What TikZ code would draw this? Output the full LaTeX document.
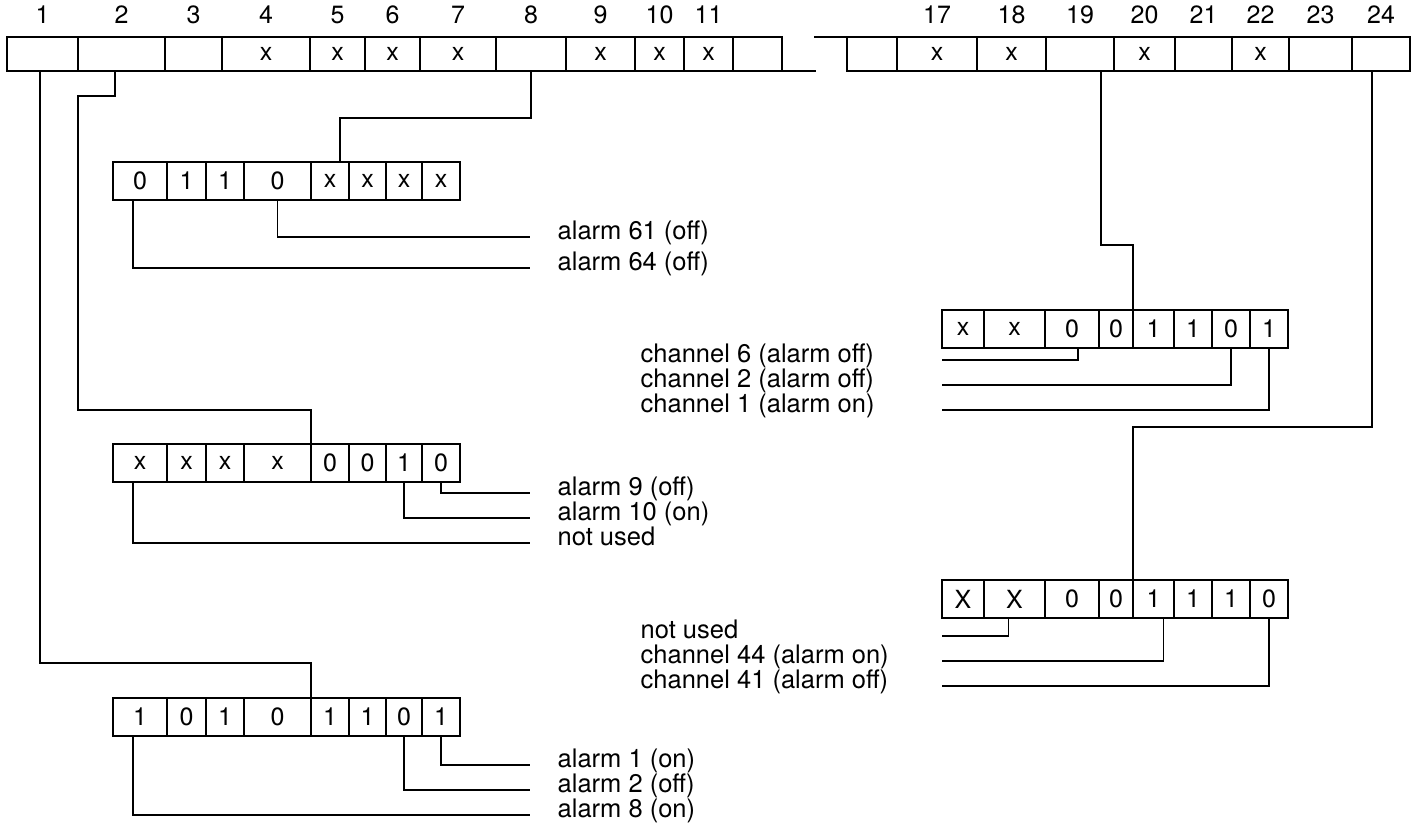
\documentclass[tikz,border=0pt]{standalone}
\usepackage{fontspec}
\setmainfont{TeX Gyre Heros}
\usetikzlibrary{positioning}

\begin{document}
\begin{tikzpicture}[
  x=1pt, y=-1pt,
  every node/.style={font=\fontsize{25}{26}\selectfont},
  line width=1.4pt,
  cell/.style={draw, minimum height=34pt, inner sep=0pt, outer sep=0pt},
  bit/.style={draw, minimum height=38pt, inner sep=0pt, outer sep=0pt},
  lbl/.style={anchor=mid west, inner xsep=27pt, inner ysep=0pt, font=\fontsize{25.5}{26}\selectfont},
  rlbl/.style={anchor=mid west, inner sep=0pt, font=\fontsize{25.5}{26}\selectfont}
  ]
  \useasboundingbox (0,0) rectangle (1418,831);

  % Register, left part
  \node (r1) [cell, minimum width=71pt] at (42.5,54) {};
  \node (r2) [cell, minimum width=87pt] at (121.5,54) {};
  \node (r3) [cell, minimum width=57pt] at (193.5,54) {};
  \node (r4) [cell, minimum width=88pt] at (266,54) {x};
  \node (r5) [cell, minimum width=55pt] at (337.5,54) {x};
  \node (r6) [cell, minimum width=55pt] at (392.5,54) {x};
  \node (r7) [cell, minimum width=76pt] at (458,54) {x};
  \node (r8) [cell, minimum width=70pt] at (531,54) {};
  \node (r9) [cell, minimum width=69pt] at (600.5,54) {x};
  \node (r10) [cell, minimum width=49pt] at (659.5,54) {x};
  \node (r11) [cell, minimum width=49pt] at (708.5,54) {x};
  \node (r12) [cell, minimum width=49pt] at (757.5,54) {};
  \node (n1) at (r1 |- 0,15) {1};
  \node (n2) at (r2 |- 0,15) {2};
  \node (n3) at (r3 |- 0,15) {3};
  \node (n4) at (r4 |- 0,15) {4};
  \node (n5) at (r5 |- 0,15) {5};
  \node (n6) at (r6 |- 0,15) {6};
  \node (n7) at (r7 |- 0,15) {7};
  \node (n8) at (r8 |- 0,15) {8};
  \node (n9) at (r9 |- 0,15) {9};
  \node (n10) at (r10 |- 0,15) {10};
  \node (n11) at (r11 |- 0,15) {11};
  \draw (r12.south east) -- ++(34,0);

  % Register, right part
  \node (s16) [cell, minimum width=50pt] at (872,54) {};
  \node (s17) [cell, minimum width=80pt] at (937,54) {x};
  \node (s18) [cell, minimum width=69pt] at (1011.5,54) {x};
  \node (s19) [cell, minimum width=68pt] at (1080,54) {};
  \node (s20) [cell, minimum width=61pt] at (1144.5,54) {x};
  \node (s21) [cell, minimum width=57pt] at (1203.5,54) {};
  \node (s22) [cell, minimum width=57pt] at (1260.5,54) {x};
  \node (s23) [cell, minimum width=63pt] at (1320.5,54) {};
  \node (s24) [cell, minimum width=58pt] at (1381,54) {};
  \node (n17) at (s17 |- 0,15) {17};
  \node (n18) at (s18 |- 0,15) {18};
  \node (n19) at (s19 |- 0,15) {19};
  \node (n20) at (s20 |- 0,15) {20};
  \node (n21) at (s21 |- 0,15) {21};
  \node (n22) at (s22 |- 0,15) {22};
  \node (n23) at (s23 |- 0,15) {23};
  \node (n24) at (s24 |- 0,15) {24};
  \draw (s16.north west) -- ++(-33,0);

  % Byte 8
  \node (a1) [bit, minimum width=54pt] at (140,181) {0};
  \node (a2) [bit, minimum width=39pt] at (186.5,181) {1};
  \node (a3) [bit, minimum width=38pt] at (225,181) {1};
  \node (a4) [bit, minimum width=67pt] at (277.5,181) {0};
  \node (a5) [bit, minimum width=38pt] at (330,181) {x};
  \node (a6) [bit, minimum width=37pt] at (367.5,181) {x};
  \node (a7) [bit, minimum width=36pt] at (404,181) {x};
  \node (a8) [bit, minimum width=38pt] at (441,181) {x};
  \coordinate (k8) at (340,118);
  \draw (r8.south) |- (k8) -- (k8 |- a5.north);
  \node (t61) [lbl] at (530,237) {alarm 61 (off)};
  \node (t64) [lbl] at (530,268) {alarm 64 (off)};
  \draw (a4.south) |- (t61.mid west);
  \draw ([xshift=-7pt]a1.south) |- (t64.mid west);

  % Byte 2
  \node (b1) [bit, minimum width=54pt] at (140,463) {x};
  \node (b2) [bit, minimum width=39pt] at (186.5,463) {x};
  \node (b3) [bit, minimum width=38pt] at (225,463) {x};
  \node (b4) [bit, minimum width=67pt] at (277.5,463) {x};
  \node (b5) [bit, minimum width=38pt] at (330,463) {0};
  \node (b6) [bit, minimum width=37pt] at (367.5,463) {0};
  \node (b7) [bit, minimum width=36pt] at (404,463) {1};
  \node (b8) [bit, minimum width=38pt] at (441,463) {0};
  \coordinate (k2a) at (115,96);
  \coordinate (k2b) at (78,410);
  \draw (k2a |- r2.south) -- (k2a) -| (k2b) -| (b5.north west);
  \node (t9) [lbl] at (530,493) {alarm 9 (off)};
  \node (t10) [lbl] at (530,518) {alarm 10 (on)};
  \node (tnu) [lbl] at (530,543) {not used};
  \draw (b8.south) |- (t9.mid west);
  \draw (b7.south) |- (t10.mid west);
  \draw ([xshift=-7pt]b1.south) |- (tnu.mid west);

  % Byte 1
  \node (c1) [bit, minimum width=54pt] at (140,717) {1};
  \node (c2) [bit, minimum width=39pt] at (186.5,717) {0};
  \node (c3) [bit, minimum width=38pt] at (225,717) {1};
  \node (c4) [bit, minimum width=67pt] at (277.5,717) {0};
  \node (c5) [bit, minimum width=38pt] at (330,717) {1};
  \node (c6) [bit, minimum width=37pt] at (367.5,717) {1};
  \node (c7) [bit, minimum width=36pt] at (404,717) {0};
  \node (c8) [bit, minimum width=38pt] at (441,717) {1};
  \coordinate (k1) at (40,663);
  \draw (k1 |- r1.south) -- (k1) -| (c5.north west);
  \node (t1) [lbl] at (530,765) {alarm 1 (on)};
  \node (t2) [lbl] at (530,790) {alarm 2 (off)};
  \node (t8) [lbl] at (530,815) {alarm 8 (on)};
  \draw (c8.south) |- (t1.mid west);
  \draw (c7.south) |- (t2.mid west);
  \draw ([xshift=-7pt]c1.south) |- (t8.mid west);

  % Byte 19
  \node (d1) [bit, minimum width=42pt] at (963,329) {x};
  \node (d2) [bit, minimum width=61pt] at (1014.5,329) {x};
  \node (d3) [bit, minimum width=54pt] at (1072,329) {0};
  \node (d4) [bit, minimum width=34pt] at (1116,329) {0};
  \node (d5) [bit, minimum width=41pt] at (1153.5,329) {1};
  \node (d6) [bit, minimum width=38pt] at (1193,329) {1};
  \node (d7) [bit, minimum width=38pt] at (1231,329) {0};
  \node (d8) [bit, minimum width=38pt] at (1269,329) {1};
  \coordinate (k19) at (1101,245);
  \draw (k19 |- s19.south) -- (k19) -| (d5.north west);
  \node (u6) [rlbl] at (640,360) {channel 6 (alarm off)};
  \node (u2) [rlbl] at (640,385) {channel 2 (alarm off)};
  \node (u1) [rlbl] at (640,410) {channel 1 (alarm on)};
  \draw ([xshift=6pt]d3.south) |- (u6.mid west -| d1.west);
  \draw (d7.south) |- (u2.mid west -| d1.west);
  \draw (d8.south) |- (u1.mid west -| d1.west);

  % Byte 24
  \node (e1) [bit, minimum width=42pt] at (963,599) {X};
  \node (e2) [bit, minimum width=61pt] at (1014.5,599) {X};
  \node (e3) [bit, minimum width=54pt] at (1072,599) {0};
  \node (e4) [bit, minimum width=34pt] at (1116,599) {0};
  \node (e5) [bit, minimum width=41pt] at (1153.5,599) {1};
  \node (e6) [bit, minimum width=38pt] at (1193,599) {1};
  \node (e7) [bit, minimum width=38pt] at (1231,599) {1};
  \node (e8) [bit, minimum width=38pt] at (1269,599) {0};
  \coordinate (k24) at (1372,427);
  \draw (k24 |- s24.south) -- (k24) -| (e5.north west);
  \node (unu) [rlbl] at (640,636) {not used};
  \node (u44) [rlbl] at (640,661) {channel 44 (alarm on)};
  \node (u41) [rlbl] at (640,686) {channel 41 (alarm off)};
  \draw ([xshift=-6pt]e2.south) |- (unu.mid west -| e1.west);
  \draw ([xshift=10pt]e5.south) |- (u44.mid west -| e1.west);
  \draw (e8.south) |- (u41.mid west -| e1.west);
\end{tikzpicture}
\end{document}
